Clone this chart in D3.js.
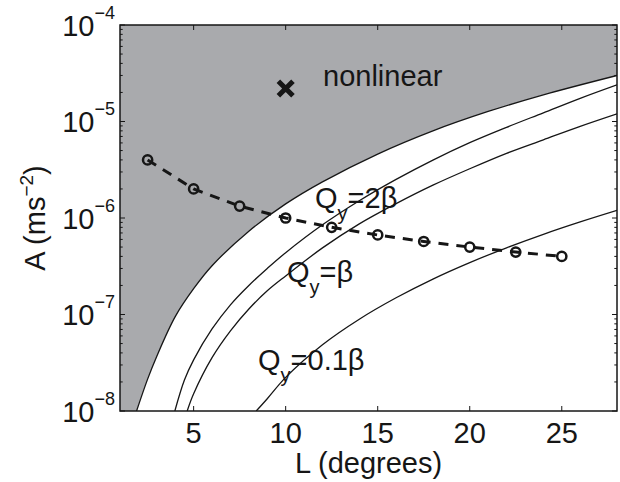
<!DOCTYPE html>
<html><head><meta charset="utf-8">
<script src="https://cdn.jsdelivr.net/npm/d3@7"></script>
<style>
html,body{margin:0;padding:0;background:#fff;}
svg{display:block;font-family:"Liberation Sans",Arial,Helvetica,sans-serif;}
</style></head>
<body><svg id="c" width="620" height="482"></svg>
<script>
// ---- data ----
const xTicks = [5, 10, 15, 20, 25];
const yTickExps = [-4, -5, -6, -7, -8];
// nonlinear boundary
const boundL = [1.9, 2.5, 3, 4, 5, 6, 8, 10, 12, 15, 18, 21, 24, 28];
const boundA = [1.0e-8, 2.14e-8, 3.7e-8, 9.5e-8, 1.85e-7, 3.2e-7, 7.3e-7, 1.4e-6, 2.37e-6, 4.6e-6, 8.0e-6, 1.27e-5, 1.89e-5, 3.0e-5];
// Q_y = 2beta
const q2L = [3.98, 4.5, 5, 6, 7, 8, 9, 10, 12, 14, 16, 18, 20, 22, 24, 26, 28];
const q2A = [1.0e-8, 2.09e-8, 3.39e-8, 7.08e-8, 1.26e-7, 2.0e-7, 3.0e-7, 4.37e-7, 8.5e-7, 1.51e-6, 2.51e-6, 3.98e-6, 6.03e-6, 8.7e-6, 1.23e-5, 1.74e-5, 2.40e-5];
// Q_y = beta
const q1L = [4.65, 5, 6, 7, 8, 9, 10, 12, 14, 16, 18, 20, 22, 24, 26, 28];
const q1A = [1.0e-8, 1.51e-8, 3.57e-8, 6.77e-8, 1.14e-7, 1.76e-7, 2.51e-7, 4.9e-7, 8.7e-7, 1.41e-6, 2.19e-6, 3.24e-6, 4.68e-6, 6.46e-6, 8.9e-6, 1.20e-5];
// Q_y = 0.1beta
const q01L = [8.4, 9, 10, 12, 14, 16, 18, 20, 22, 24, 26, 28];
const q01A = [1.0e-8, 1.34e-8, 2.23e-8, 4.86e-8, 8.94e-8, 1.49e-7, 2.33e-7, 3.45e-7, 4.91e-7, 6.78e-7, 9.11e-7, 1.20e-6];
// dashed series with circles
const ptsL = [2.5, 5, 7.5, 10, 12.5, 15, 17.5, 20, 22.5, 25];
const ptsA = [4.0e-6, 2.0e-6, 1.33e-6, 1.0e-6, 8.0e-7, 6.67e-7, 5.71e-7, 5.0e-7, 4.44e-7, 4.0e-7];
// marker
const markL = [10];
const markA = [2.2e-5];

// ---- layout ----
const L = 120, R = 617, T = 25, B = 411;
const svg = d3.select("#c");
const x = d3.scaleLinear().domain([1, 28]).range([L, R]);
const y = d3.scaleLog().domain([1e-8, 1e-4]).range([B, T]);
const ink = "#161616";

svg.append("defs").append("clipPath").attr("id","clip")
  .append("rect").attr("x",L).attr("y",T).attr("width",R-L).attr("height",B-T);

const zip = (a,b) => a.map((v,i)=>[v,b[i]]);
const line = d3.line().x(d=>x(d[0])).y(d=>y(d[1])).curve(d3.curveCatmullRom.alpha(0.5));

const g = svg.append("g").attr("clip-path","url(#clip)");
// gray nonlinear region
const bpath = line(zip(boundL, boundA));
g.append("path")
  .attr("d", bpath + `L${x(28)+5},${y(1e-4)-5}L${x(1)-5},${y(1e-4)-5}L${x(1)-5},${y(1e-8)+5}L${x(boundL[0])},${y(1e-8)+5}Z`)
  .attr("fill","#a9aaad").attr("stroke","none");
g.append("path").attr("d", bpath).attr("fill","none").attr("stroke",ink).attr("stroke-width",1.3);
[[q2L,q2A],[q1L,q1A],[q01L,q01A]].forEach(([a,b])=>{
  g.append("path").attr("d", line(zip(a,b))).attr("fill","none").attr("stroke",ink).attr("stroke-width",1.3);
});

// dashed line + circles
const pts = zip(ptsL, ptsA);
g.append("path").attr("d", d3.line().x(d=>x(d[0])).y(d=>y(d[1]))(pts))
  .attr("fill","none").attr("stroke",ink).attr("stroke-width",3).attr("stroke-dasharray","10,8");
g.selectAll("circle.p").data(pts).join("circle")
  .attr("cx",d=>x(d[0])).attr("cy",d=>y(d[1])).attr("r",4.6)
  .attr("fill","none").attr("stroke",ink).attr("stroke-width",2.5);

// X marker
zip(markL, markA).forEach(([l,a])=>{
  const cx = x(l), cy = y(a), h = 7.3;
  g.append("path").attr("d",`M${cx-h},${cy-h}L${cx+h},${cy+h}M${cx-h},${cy+h}L${cx+h},${cy-h}`)
    .attr("stroke",ink).attr("stroke-width",5).attr("fill","none");
});

// axes box
svg.append("rect").attr("x",L).attr("y",T).attr("width",R-L).attr("height",B-T)
  .attr("fill","none").attr("stroke",ink).attr("stroke-width",1.5);

// x ticks (inward, top and bottom)
const tk = svg.append("g").attr("stroke",ink).attr("stroke-width",1);
xTicks.forEach(v=>{
  tk.append("line").attr("x1",x(v)).attr("x2",x(v)).attr("y1",B).attr("y2",B-5);
  tk.append("line").attr("x1",x(v)).attr("x2",x(v)).attr("y1",T).attr("y2",T+5);
});
// y ticks (log, major+minor)
y.ticks().forEach(v=>{
  const e = Math.log10(v), major = Math.abs(e-Math.round(e))<1e-9;
  const len = major ? 5 : 2.7;
  tk.append("line").attr("x1",L).attr("x2",L+len).attr("y1",y(v)).attr("y2",y(v));
  tk.append("line").attr("x1",R).attr("x2",R-len).attr("y1",y(v)).attr("y2",y(v));
});

// tick labels
const fs = 29;
xTicks.forEach(v=>{
  svg.append("text").attr("x",x(v)).attr("y",B+32).attr("text-anchor","middle")
    .attr("font-size",fs).attr("fill",ink).text(v);
});
yTickExps.forEach(e=>{
  const t = svg.append("text").attr("x",115).attr("y",y(Math.pow(10,e))+10.5)
    .attr("text-anchor","end").attr("font-size",fs).attr("fill",ink);
  t.append("tspan").text("10");
  t.append("tspan").attr("dy",-17).attr("font-size",18).text("\u2212"+Math.abs(e));
});

// axis labels
svg.append("text").attr("x",(L+R)/2).attr("y",473).attr("text-anchor","middle")
  .attr("font-size",fs).attr("fill",ink).text("L (degrees)");
const yl = svg.append("text").attr("transform","translate(45,218) rotate(-90)")
  .attr("text-anchor","middle").attr("font-size",fs).attr("fill",ink);
yl.append("tspan").text("A (ms");
yl.append("tspan").attr("dy",-12).attr("font-size",19).text("\u22122");
yl.append("tspan").attr("dy",12).text(")");

// annotations
svg.append("text").attr("x",323).attr("y",86).attr("font-size",fs).attr("fill",ink).text("nonlinear");
function qlabel(px, py, rest){
  const t = svg.append("text").attr("x",px).attr("y",py).attr("font-size",fs).attr("fill",ink);
  t.append("tspan").text("Q");
  t.append("tspan").attr("dy",12).attr("font-size",20).text("y");
  t.append("tspan").attr("dy",-12).text(rest);
}
qlabel(315, 208, "=2\u03b2");
qlabel(287, 282, "=\u03b2");
qlabel(258, 370, "=0.1\u03b2");
</script></body></html>
